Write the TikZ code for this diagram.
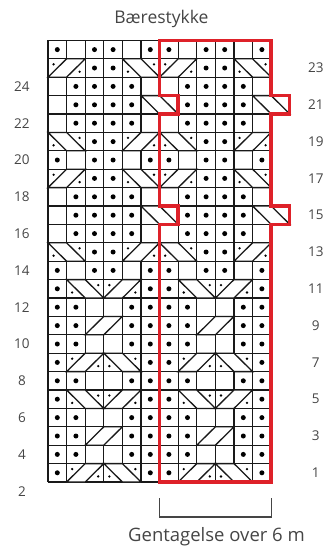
\documentclass[tikz,border=0pt]{standalone}
\usepackage{fontspec}
\setmainfont{Open Sans}
\usetikzlibrary{arrows}
\definecolor{repred}{rgb}{0.87,0.13,0.16}
\definecolor{numgray}{rgb}{0.27,0.27,0.27}

\tikzset{
  gridline/.style={line width=1.3pt,black!90},
  rownum/.style={text=numgray,font=\fontsize{13.5}{15}\selectfont},
  repeatbox/.style={repred,line width=3.4pt,line join=miter},
}

% one macro per chart symbol, #1 = column, #2 = row
\newcommand{\cellk}[2]{}
\newcommand{\celln}[2]{}
\newcommand{\cellp}[2]{\fill (#1-0.5,#2-0.5) circle (2.5pt);}
\newcommand{\cellR}[2]{\filldraw[gridline,fill=white] (#1-1,#2-1) -- (#1,#2-1) -- (#1+1,#2) -- (#1,#2) -- cycle;}
\newcommand{\cellL}[2]{\filldraw[gridline,fill=white] (#1-1,#2) -- (#1,#2) -- (#1+1,#2-1) -- (#1,#2-1) -- cycle;}
\newcommand{\cellRp}[2]{\cellR{#1}{#2}
  \fill (#1-0.7,#2-0.3) circle (1.3pt) (#1+0.7,#2-0.7) circle (1.3pt);}
\newcommand{\cellLp}[2]{\cellL{#1}{#2}
  \fill (#1-0.7,#2-0.7) circle (1.3pt) (#1+0.7,#2-0.3) circle (1.3pt);}

\begin{document}
\begin{tikzpicture}[x=18.6pt,y=18.4pt]
\useasboundingbox (-2.5806,-3.913) rectangle (15.1075,26.196);
\foreach \i in {0,...,12} {
  \draw[gridline] (\i,0) -- (\i,24);
}
\foreach \j in {0,...,24} {
  \draw[gridline] (0,\j) -- (12,\j);
}
\foreach \r/\row in {24/{p,k,p,p,k,p},23/{Rp,n,p,p,Lp,n},22/{k,p,p,p,p,k},
    21/{k,p,p,p,p,L},20/{k,p,p,p,p,k},19/{Lp,n,p,p,Rp,n},
    18/{p,k,p,p,k,p},17/{Rp,n,p,p,Lp,n},16/{k,p,p,p,p,k},
    15/{k,p,p,p,p,L},14/{k,p,p,p,p,k},13/{Lp,n,p,p,Rp,n},
    12/{p,k,p,p,k,p},11/{p,Lp,n,Rp,n,p},10/{p,p,k,k,p,p},
    9/{p,p,R,n,p,p},8/{p,p,k,k,p,p},7/{p,Rp,n,Lp,n,p},
    6/{p,p,k,k,p,p},5/{p,Lp,n,Rp,n,p},4/{p,p,k,k,p,p},
    3/{p,p,R,n,p,p},2/{p,p,k,k,p,p},1/{p,Rp,n,Lp,n,p}} {
  \foreach \st [count=\c] in \row {
    \foreach \o in {0,6} {
      \pgfmathtruncatemacro{\x}{\c+\o}
      \csname cell\st\endcsname{\x}{\r}
    }
  }
}
% pattern repeat
\draw[repeatbox] (6,24) -- (12,24) -- (12,21) -- (13,21) -- (13,20) -- (12,20)
  -- (12,15) -- (13,15) -- (13,14) -- (12,14) -- (12,0) -- (6,0) -- (6,14)
  -- (7,14) -- (7,15) -- (6,15) -- (6,20) -- (7,20) -- (7,21) -- (6,21) -- cycle;
\foreach \n in {1,3,...,23} {
  \node[rownum] (right\n) at (14.4,\n-0.5) {\n};
}
\foreach \n in {2,4,...,24} {
  \node[rownum] (left\n) at (-1.4,\n-2.5) {\n};
}
\node[text=numgray,font=\fontsize{17.5}{20}\selectfont] (title) at (6.1,25.16) {Bærestykke};
\draw[numgray,line width=1.2pt] (6,-0.87) -- (6,-1.9) -- (12,-1.9) -- (12,-0.87);
\node[text=numgray,font=\fontsize{18.5}{20}\selectfont] (repeat) at (9.06,-2.99) {Gentagelse over 6 m};
\end{tikzpicture}
\end{document}
